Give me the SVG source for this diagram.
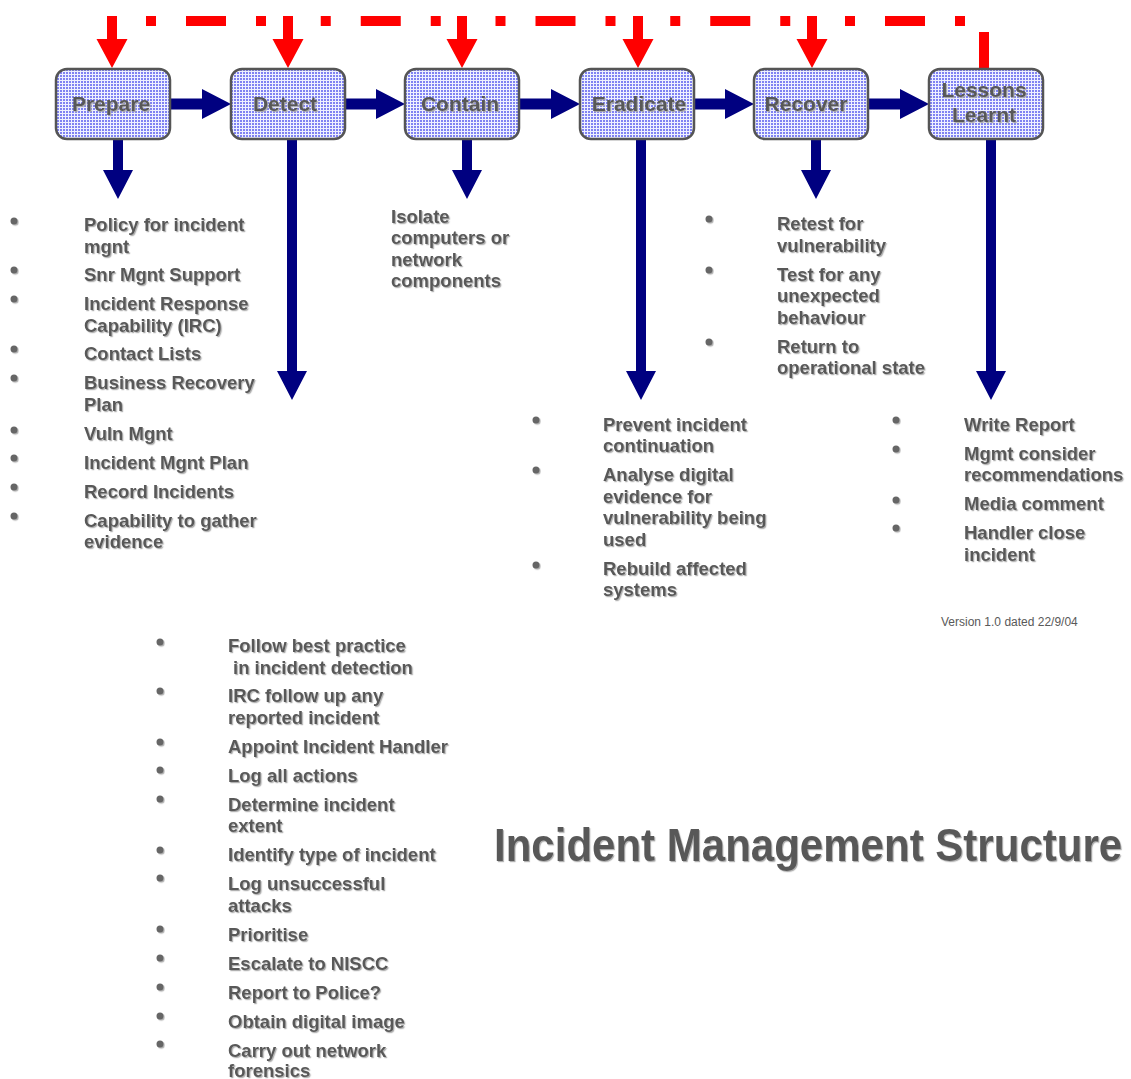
<svg xmlns="http://www.w3.org/2000/svg" width="1131" height="1079" viewBox="0 0 1131 1079">
<defs>
  <pattern id="grid" width="3" height="3" patternUnits="userSpaceOnUse">
    <rect width="3" height="3" fill="#eef0ff"/>
    <rect width="2" height="2" fill="#7f82f2"/>
  </pattern>
  <filter id="sh" x="-10%" y="-20%" width="130%" height="160%">
    <feDropShadow dx="1.2" dy="1.2" stdDeviation="0.6" flood-color="#a8a8a8" flood-opacity="0.9"/>
  </filter>
</defs>
<style>
  .box { fill: url(#grid); stroke: #555555; stroke-width: 2.5; }
  .lbl { font-family: "Liberation Sans", Arial, sans-serif; font-weight: bold; font-size: 21px; fill: #595959; text-anchor: middle; filter: url(#sh); }
  .li { font-family: "Liberation Sans", Arial, sans-serif; font-weight: bold; font-size: 18.5px; fill: #595959; filter: url(#sh); }
  .bul { fill: #666666; filter: url(#sh); }
  .blue { fill: #000080; }
  .red { fill: #ff0000; }
  .title { font-family: "Liberation Sans", Arial, sans-serif; font-weight: bold; font-size: 46px; fill: #595959; filter: url(#sh); }
  .ver { font-family: "Liberation Sans", Arial, sans-serif; font-size: 12px; fill: #595959; }
</style>

<g id="connectors">
  <path d="M107,21 H965" stroke="#ff0000" stroke-width="10" fill="none" stroke-dasharray="40 30 10 54.75 10 30" stroke-dashoffset="95.75"/>
  <rect class="red" x="979" y="32" width="10" height="39"/>
  <polygon class="red" points="107,16 117,16 117,39 127.5,39 112,68 96.5,39 107,39"/>
  <polygon class="red" points="283,16 293,16 293,39 303.5,39 288,68 272.5,39 283,39"/>
  <polygon class="red" points="457,16 467,16 467,39 477.5,39 462,68 446.5,39 457,39"/>
  <polygon class="red" points="633,16 643,16 643,39 653.5,39 638,68 622.5,39 633,39"/>
  <polygon class="red" points="807,16 817,16 817,39 827.5,39 812,68 796.5,39 807,39"/>
  <polygon class="blue" points="170,98.5 202,98.5 202,89 231,104 202,119 202,109.5 170,109.5"/>
  <polygon class="blue" points="345,98.5 376,98.5 376,89 405,104 376,119 376,109.5 345,109.5"/>
  <polygon class="blue" points="519,98.5 551,98.5 551,89 580,104 551,119 551,109.5 519,109.5"/>
  <polygon class="blue" points="694,98.5 725,98.5 725,89 754,104 725,119 725,109.5 694,109.5"/>
  <polygon class="blue" points="868,98.5 900,98.5 900,89 929,104 900,119 900,109.5 868,109.5"/>
  <polygon class="blue" points="113,139 123,139 123,170 133,170 118,199 103,170 113,170"/>
  <polygon class="blue" points="287,139 297,139 297,371 307,371 292,400 277,371 287,371"/>
  <polygon class="blue" points="462,139 472,139 472,170 482,170 467,199 452,170 462,170"/>
  <polygon class="blue" points="636,139 646,139 646,371 656,371 641,400 626,371 636,371"/>
  <polygon class="blue" points="811,139 821,139 821,170 831,170 816,199 801,170 811,170"/>
  <polygon class="blue" points="986,139 996,139 996,371 1006,371 991,400 976,371 986,371"/>
</g>

<g id="prepare">
  <rect class="box" x="56" y="69" width="114" height="70" rx="11"/>
  <text class="lbl" x="111" y="111">Prepare</text>
</g>
<g id="detect">
  <rect class="box" x="231" y="69" width="114" height="70" rx="11"/>
  <text class="lbl" x="285" y="111">Detect</text>
</g>
<g id="contain">
  <rect class="box" x="405" y="69" width="114" height="70" rx="11"/>
  <text class="lbl" x="460" y="111">Contain</text>
</g>
<g id="eradicate">
  <rect class="box" x="580" y="69" width="114" height="70" rx="11"/>
  <text class="lbl" x="639" y="111">Eradicate</text>
</g>
<g id="recover">
  <rect class="box" x="754" y="69" width="114" height="70" rx="11"/>
  <text class="lbl" x="806" y="111">Recover</text>
</g>
<g id="lessons">
  <rect class="box" x="929" y="69" width="114" height="70" rx="11"/>
  <text class="lbl" x="984" y="97">Lessons</text>
  <text class="lbl" x="984" y="122">Learnt</text>
</g>

<g id="list-prepare">
  <circle class="bul" cx="14" cy="221" r="3.5"/>
  <circle class="bul" cx="14" cy="270" r="3.5"/>
  <circle class="bul" cx="14" cy="299" r="3.5"/>
  <circle class="bul" cx="14" cy="349" r="3.5"/>
  <circle class="bul" cx="14" cy="378" r="3.5"/>
  <circle class="bul" cx="14" cy="430" r="3.5"/>
  <circle class="bul" cx="14" cy="458" r="3.5"/>
  <circle class="bul" cx="14" cy="487" r="3.5"/>
  <circle class="bul" cx="14" cy="516" r="3.5"/>
  <text class="li" x="84" y="231">Policy for incident</text>
  <text class="li" x="84" y="252.5">mgnt</text>
  <text class="li" x="84" y="281">Snr Mgnt Support</text>
  <text class="li" x="84" y="310">Incident Response</text>
  <text class="li" x="84" y="331.5">Capability (IRC)</text>
  <text class="li" x="84" y="360">Contact Lists</text>
  <text class="li" x="84" y="389">Business Recovery</text>
  <text class="li" x="84" y="410.5">Plan</text>
  <text class="li" x="84" y="439.5">Vuln Mgnt</text>
  <text class="li" x="84" y="468.5">Incident Mgnt Plan</text>
  <text class="li" x="84" y="497.5">Record Incidents</text>
  <text class="li" x="84" y="526.5">Capability to gather</text>
  <text class="li" x="84" y="548">evidence</text>
</g>

<g id="list-contain">
  <text class="li" x="391" y="222.5">Isolate</text>
  <text class="li" x="391" y="244">computers or</text>
  <text class="li" x="391" y="265.5">network</text>
  <text class="li" x="391" y="287">components</text>
</g>

<g id="list-recover">
  <circle class="bul" cx="709" cy="219" r="3.5"/>
  <circle class="bul" cx="709" cy="270" r="3.5"/>
  <circle class="bul" cx="709" cy="342" r="3.5"/>
  <text class="li" x="777" y="230">Retest for</text>
  <text class="li" x="777" y="251.5">vulnerability</text>
  <text class="li" x="777" y="280.5">Test for any</text>
  <text class="li" x="777" y="302">unexpected</text>
  <text class="li" x="777" y="323.5">behaviour</text>
  <text class="li" x="777" y="352.5">Return to</text>
  <text class="li" x="777" y="374">operational state</text>
</g>

<g id="list-eradicate">
  <circle class="bul" cx="536" cy="420" r="3.5"/>
  <circle class="bul" cx="536" cy="470" r="3.5"/>
  <circle class="bul" cx="536" cy="565" r="3.5"/>
  <text class="li" x="603" y="430.5">Prevent incident</text>
  <text class="li" x="603" y="452">continuation</text>
  <text class="li" x="603" y="481">Analyse digital</text>
  <text class="li" x="603" y="502.5">evidence for</text>
  <text class="li" x="603" y="524">vulnerability being</text>
  <text class="li" x="603" y="545.5">used</text>
  <text class="li" x="603" y="574.5">Rebuild affected</text>
  <text class="li" x="603" y="596">systems</text>
</g>

<g id="list-lessons">
  <circle class="bul" cx="896" cy="420" r="3.5"/>
  <circle class="bul" cx="896" cy="449" r="3.5"/>
  <circle class="bul" cx="896" cy="500" r="3.5"/>
  <circle class="bul" cx="896" cy="528" r="3.5"/>
  <text class="li" x="964" y="430.5">Write Report</text>
  <text class="li" x="964" y="459.5">Mgmt consider</text>
  <text class="li" x="964" y="481">recommendations</text>
  <text class="li" x="964" y="510">Media comment</text>
  <text class="li" x="964" y="539">Handler close</text>
  <text class="li" x="964" y="560.5">incident</text>
</g>

<g id="list-detect">
  <circle class="bul" cx="160" cy="642" r="3.5"/>
  <circle class="bul" cx="160" cy="691" r="3.5"/>
  <circle class="bul" cx="160" cy="742" r="3.5"/>
  <circle class="bul" cx="160" cy="770" r="3.5"/>
  <circle class="bul" cx="160" cy="799" r="3.5"/>
  <circle class="bul" cx="160" cy="850" r="3.5"/>
  <circle class="bul" cx="160" cy="878" r="3.5"/>
  <circle class="bul" cx="160" cy="929" r="3.5"/>
  <circle class="bul" cx="160" cy="958" r="3.5"/>
  <circle class="bul" cx="160" cy="987" r="3.5"/>
  <circle class="bul" cx="160" cy="1016" r="3.5"/>
  <circle class="bul" cx="160" cy="1044" r="3.5"/>
  <text class="li" x="228" y="652">Follow best practice</text>
  <text class="li" x="233" y="673.5">in incident detection</text>
  <text class="li" x="228" y="702">IRC follow up any</text>
  <text class="li" x="228" y="723.5">reported incident</text>
  <text class="li" x="228" y="752.5">Appoint Incident Handler</text>
  <text class="li" x="228" y="781.5">Log all actions</text>
  <text class="li" x="228" y="810.5">Determine incident</text>
  <text class="li" x="228" y="832">extent</text>
  <text class="li" x="228" y="861">Identify type of incident</text>
  <text class="li" x="228" y="890">Log unsuccessful</text>
  <text class="li" x="228" y="911.5">attacks</text>
  <text class="li" x="228" y="940.5">Prioritise</text>
  <text class="li" x="228" y="969.5">Escalate to NISCC</text>
  <text class="li" x="228" y="998.5">Report to Police?</text>
  <text class="li" x="228" y="1027.5">Obtain digital image</text>
  <text class="li" x="228" y="1056.5">Carry out network</text>
  <text class="li" x="228" y="1077">forensics</text>
</g>

<g id="title" transform="translate(494,861) scale(0.914,1)">
  <text class="title" x="0" y="0">Incident Management Structure</text>
</g>
<g id="version">
  <text class="ver" x="941" y="626">Version 1.0 dated 22/9/04</text>
</g>
</svg>
